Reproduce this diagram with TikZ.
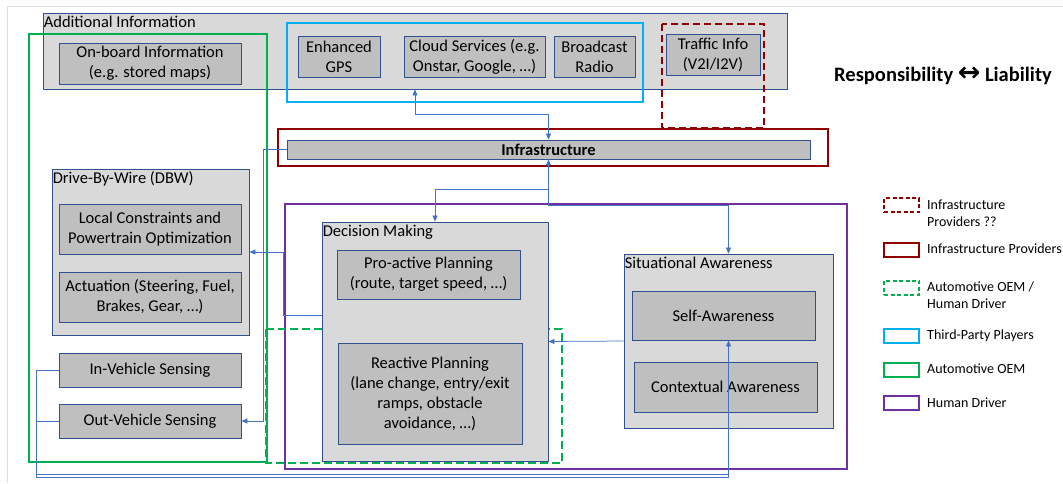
\documentclass[tikz,border=0pt]{standalone}
\usepackage{fontspec}
\setmainfont{Carlito}
\newfontfamily\arrowfont{DejaVu Sans}
\usetikzlibrary{arrows.meta}

\definecolor{panelgray}{HTML}{D9D9D9}
\definecolor{itemgray}{HTML}{BFBFBF}
\definecolor{boxedge}{HTML}{2F528F}
\definecolor{linkblue}{HTML}{4472C4}
\definecolor{infrared}{HTML}{900000}
\definecolor{oemgreen}{HTML}{00B050}
\definecolor{thirdcyan}{HTML}{00B0F0}
\definecolor{driverpurple}{HTML}{7030A0}

\newcommand\boxfont{\fontsize{16.5}{20}\selectfont}
\newcommand\legendfont{\fontsize{14}{17}\selectfont}
\newcommand\mottofont{\fontsize{20.5}{24}\selectfont}

\begin{document}
\begin{tikzpicture}[
  x=1pt, y=-1pt,
  panel/.style={draw=boxedge, fill=panelgray, line width=0.8pt, inner sep=0pt},
  item/.style={draw=boxedge, fill=itemgray, line width=0.8pt, align=center, inner sep=1pt, font=\boxfont},
  heading/.style={anchor=north west, inner xsep=1pt, inner ysep=3pt, font=\boxfont},
  party/.style={line width=2pt},
  link/.style={draw=linkblue, line width=0.75pt, >={Triangle[length=6pt, width=5pt]}},
  key/.style={minimum width=35pt, minimum height=14pt, line width=2pt, inner sep=0pt},
  keytext/.style={anchor=west, align=left, inner sep=0pt, font=\legendfont}
]
\useasboundingbox (0,0) rectangle (1063,483);
\draw[gray!25, line width=1pt] (7,483) -- (7,6) -- (1063,6);

% additional information
\node[panel, minimum width=744pt, minimum height=76pt] (addinfo) at (415,51) {};
\node[heading] (addinfo-t) at (addinfo.north west) {Additional Information};
\node[item, minimum width=182pt, minimum height=41pt] (onboard) at (150,63.5) {On-board Information\\(e.g. stored maps)};
\node[item, minimum width=82pt, minimum height=41pt] (gps) at (339,56.5) {Enhanced\\GPS};
\node[item, minimum width=141pt, minimum height=41pt] (cloud) at (474.5,56.5) {Cloud Services (e.g.\\Onstar, Google, …)};
\node[item, minimum width=81pt, minimum height=41pt] (radio) at (594.5,56.5) {Broadcast\\Radio};
\node[item, minimum width=94pt, minimum height=41pt] (traffic) at (713,54.5) {Traffic Info\\(V2I/I2V)};

\draw[party, draw=oemgreen] (29,34) rectangle (267,462);
\draw[party, draw=thirdcyan] (287,23) rectangle (643,102);
\draw[party, draw=infrared, dash pattern=on 7pt off 4pt] (662,24) rectangle (764,128);
\draw[party, draw=infrared] (278,129) rectangle (828,166);

\node[item, font=\boxfont\bfseries, minimum width=523pt, minimum height=19pt, inner sep=0pt] (infra) at (548.5,149.5) {Infrastructure};

% drive-by-wire and sensing
\node[panel, minimum width=197pt, minimum height=166pt] (dbw) at (150.5,252) {};
\node[heading] (dbw-t) at (dbw.north west) {Drive-By-Wire (DBW)};
\node[item, minimum width=182pt, minimum height=50pt] (local) at (150,229) {Local Constraints and\\Powertrain Optimization};
\node[item, minimum width=182pt, minimum height=50pt] (actuation) at (150,297) {Actuation (Steering, Fuel,\\Brakes, Gear, …)};
\node[item, minimum width=182pt, minimum height=34pt] (inveh) at (150,370) {In-Vehicle Sensing};
\node[item, minimum width=182pt, minimum height=34pt] (outveh) at (150,421) {Out-Vehicle Sensing};

\draw[party, draw=driverpurple] (285,204) rectangle (847,469);
\draw[party, draw=oemgreen, dash pattern=on 8pt off 4pt] (266,329) rectangle (562,463);

% decision making
\node[panel, minimum width=226pt, minimum height=239pt] (dm) at (435,341.5) {};
\node[heading] (dm-t) at (dm.north west) {Decision Making};
\node[item, minimum width=183pt, minimum height=49pt] (proactive) at (428.5,274.5) {Pro-active Planning\\(route, target speed, …)};
\node[item, minimum width=184pt, minimum height=101pt] (reactive) at (430,393.5) {Reactive Planning\\(lane change, entry/exit\\ramps, obstacle\\avoidance, …)};

% situational awareness
\node[panel, minimum width=209pt, minimum height=174pt] (sa) at (728.5,341) {};
\node[heading] (sa-t) at (sa.north west) {Situational Awareness};
\node[item, minimum width=183pt, minimum height=49pt] (self) at (723.5,315.5) {Self-Awareness};
\node[item, minimum width=183pt, minimum height=50pt] (context) at (725.5,387) {Contextual Awareness};

% connectors
\coordinate (sensebus) at (728.5,477);
\draw[link, <->] (addinfo.south) -- ++(0,25) -| (infra.north);
\draw[link, <->] (dm.north) -- ++(0,-32) -| (infra.south);
\draw[link, ->] (infra.south) -- ++(0,46) -| (sa.north);
\draw[link, ->] (infra.west) -- ++(-23,0) |- (outveh.east);
\draw[link, ->] ([yshift=26.5pt]dm.west) -- ++(-38,0) |- (dbw.east);
\draw[link, ->] (sa.west) -- (dm.east);
\draw[link, ->] (inveh.west) -- ++(-22,0) |- (sensebus) -- (sensebus |- self.south);
\draw[link] (outveh.west) -- ++(-22,0) |- ([yshift=3pt]sensebus) -- ++(0,-30);

% legend
\node[key, draw=infrared, dash pattern=on 4pt off 2.5pt] (key1) at (901.5,205) {};
\node[keytext] (key1-t) at (927,213) {Infrastructure\\Providers ??};
\node[key, draw=infrared] (key2) at (901.5,249.5) {};
\node[keytext] (key2-t) at (927,249) {Infrastructure Providers};
\node[key, draw=oemgreen, dash pattern=on 4pt off 2.5pt] (key3) at (901.5,287.5) {};
\node[keytext] (key3-t) at (927,295.5) {Automotive OEM /\\Human Driver};
\node[key, draw=thirdcyan] (key4) at (901.5,336) {};
\node[keytext] (key4-t) at (927,336) {Third-Party Players};
\node[key, draw=oemgreen] (key5) at (901.5,369.5) {};
\node[keytext] (key5-t) at (927,369) {Automotive OEM};
\node[key, draw=driverpurple] (key6) at (901.5,403) {};
\node[keytext] (key6-t) at (927,403) {Human Driver};

\node[font=\mottofont\bfseries] (motto) at (943,76) {Responsibility {\arrowfont\fontsize{27}{27}\selectfont ↔} Liability};
\end{tikzpicture}
\end{document}
